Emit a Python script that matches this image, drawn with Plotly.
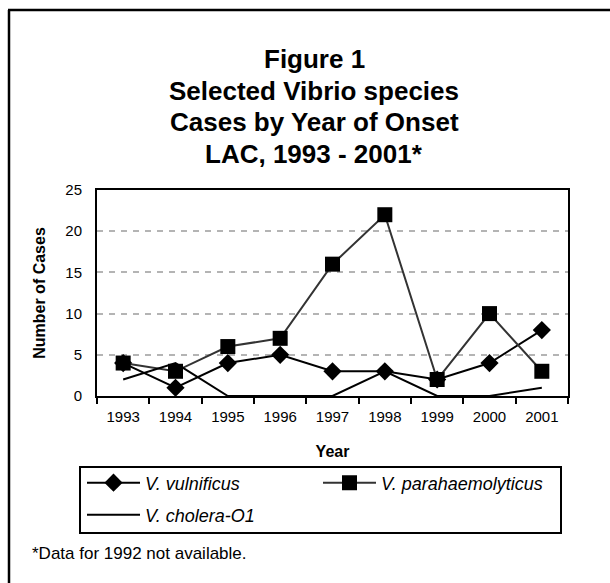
import plotly.graph_objects as go

years = ["1993", "1994", "1995", "1996", "1997", "1998", "1999", "2000", "2001"]
vulnificus = [4, 1, 4, 5, 3, 3, 2, 4, 8]
parahaemolyticus = [4, 3, 6, 7, 16, 22, 2, 10, 3]
cholera_o1 = [2, 4, 0, 0, 0, 3, 0, 0, 1]

title_lines = ["Figure 1", "Selected Vibrio species", "Cases by Year of Onset", "LAC, 1993 - 2001*"]
FONT = "Liberation Sans, Arial, sans-serif"

# plot area in pixels: x 97..568, y 190..396
L, R, T, B = 97, 568, 190, 396
W, H = 610, 583


def px_x(p):
    return (p - L) / (R - L)


def px_y(p):
    return (B - p) / (B - T)


fig = go.Figure()
fig.add_trace(go.Scatter(
    x=years, y=vulnificus, mode="lines+markers", name="<i>V. vulnificus</i>",
    line=dict(color="black", width=2), legend="legend",
    marker=dict(symbol="diamond", size=14, color="black")))
fig.add_trace(go.Scatter(
    x=years, y=parahaemolyticus, mode="lines+markers", name="<i>V. parahaemolyticus</i>",
    line=dict(color="#333333", width=2), legend="legend",
    marker=dict(symbol="square", size=15, color="black")))
fig.add_trace(go.Scatter(
    x=years, y=cholera_o1, mode="lines", name="<i>V. cholera-O1</i>",
    line=dict(color="black", width=2), legend="legend2"))

# title lines
for i, txt in enumerate(title_lines):
    fig.add_annotation(text=f"<b>{txt}</b>", xref="paper", yref="paper",
                       x=px_x(314), y=px_y(59 + i * 31.7), showarrow=False,
                       xanchor="center", yanchor="middle",
                       font=dict(family=FONT, size=26, color="black"))

fig.add_annotation(text="*Data for 1992 not available.", xref="paper", yref="paper",
                   x=px_x(30), y=px_y(553), showarrow=False, xanchor="left", yanchor="middle",
                   font=dict(family=FONT, size=17, color="black"))

# outer frame (left and top edges)
fig.add_shape(type="line", xref="paper", yref="paper", x0=px_x(9), x1=px_x(9),
              y0=px_y(10), y1=px_y(590), line=dict(color="black", width=2.5))
fig.add_shape(type="line", xref="paper", yref="paper", x0=px_x(8), x1=px_x(620),
              y0=px_y(10), y1=px_y(10), line=dict(color="black", width=2.5))
# legend box
fig.add_shape(type="rect", xref="paper", yref="paper", x0=px_x(80), x1=px_x(561),
              y0=px_y(467), y1=px_y(533), line=dict(color="black", width=2))

leg_common = dict(orientation="h", xanchor="left", yanchor="middle",
                  borderwidth=0, bgcolor="rgba(0,0,0,0)", itemwidth=53,
                  entrywidth=168, entrywidthmode="pixels",
                  font=dict(family=FONT, size=18, color="black"))

fig.update_layout(
    width=W, height=H,
    margin=dict(l=L, r=W - R, t=T, b=H - B),
    paper_bgcolor="white", plot_bgcolor="white",
    font=dict(family=FONT, size=15, color="black"),
    showlegend=True,
    legend=dict(x=px_x(82), y=px_y(483), **leg_common),
    legend2=dict(x=px_x(82), y=px_y(515), **leg_common),
)
fig.update_xaxes(
    type="category", range=[-0.5, 8.5], tickson="boundaries",
    ticks="outside", ticklen=6, tickwidth=2, tickcolor="black",
    showline=True, linecolor="black", linewidth=2, mirror=True,
    showgrid=False, tickfont=dict(size=15), ticklabelstandoff=6,
    title=dict(text="<b>Year</b>", font=dict(size=16), standoff=22))
fig.update_yaxes(
    range=[0, 25], dtick=5, ticks="", ticklabelstandoff=10,
    showline=True, linecolor="black", linewidth=2, mirror=True,
    showgrid=True, gridcolor="#b4b4b4", gridwidth=2, griddash="6px,6px",
    zeroline=False, tickfont=dict(size=15),
    title=dict(text="<b>Number of Cases</b>", font=dict(size=16), standoff=16))

fig.write_html("out.html", config={"displayModeBar": False},
               post_script="document.body.style.margin='0px';")
